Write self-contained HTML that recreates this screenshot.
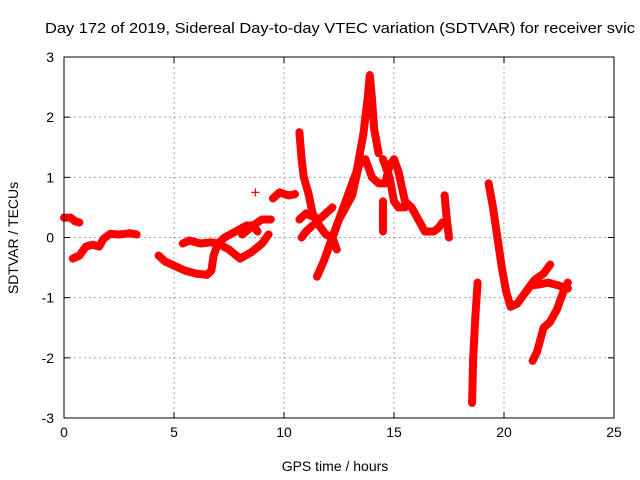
<!DOCTYPE html>
<html><head><meta charset="utf-8"><style>
body{margin:0;background:#fff}
svg{display:block;font-family:"Liberation Sans",sans-serif}
</style></head><body>
<svg id="c" width="640" height="480">
<text x="45" y="33" font-size="15" textLength="590" lengthAdjust="spacingAndGlyphs">Day 172 of 2019, Sidereal Day-to-day VTEC variation (SDTVAR) for receiver svic</text>
<text x="335" y="471" font-size="14" text-anchor="middle">GPS time / hours</text>
<text transform="translate(18,238) rotate(-90)" font-size="14" text-anchor="middle">SDTVAR / TECUs</text>
<g id="grid"></g>
<g id="marks"></g>
<rect x="64" y="57" width="550" height="361" fill="none" stroke="#000" stroke-width="1"/>
</svg>
<script>
const xTicks=[0,5,10,15,20,25];
const yTicks=[-3,-2,-1,0,1,2,3];
const traces=[
[[0,0.33],[0.3,0.33],[0.5,0.27],[0.7,0.25]],
[[0.4,-0.35],[0.7,-0.3],[1.0,-0.15],[1.3,-0.12],[1.6,-0.15],[1.8,-0.02],[2.1,0.06],[2.5,0.05],[3.0,0.07],[3.3,0.05]],
[[4.3,-0.3],[4.6,-0.4],[4.9,-0.45],[5.2,-0.5],[5.5,-0.55],[6.0,-0.6],[6.5,-0.62],[6.7,-0.55],[6.8,-0.3],[7.0,-0.1],[7.3,0],[7.8,0.1],[8.3,0.2],[8.6,0.2],[8.8,0.1]],
[[5.4,-0.1],[5.7,-0.05],[6.2,-0.1],[6.7,-0.08],[7.0,-0.1],[7.5,-0.2],[8.0,-0.35],[8.5,-0.25],[9.0,-0.1],[9.3,0.05]],
[[8.1,0.05],[8.6,0.2],[9.0,0.3],[9.4,0.3]],
[[9.5,0.65],[9.8,0.75],[10.2,0.7],[10.5,0.72]],
[[8.7,0.75]],
[[10.7,1.75],[10.8,1.3],[10.9,1.0],[11.1,0.75],[11.3,0.4],[11.6,0.2],[11.9,0.05],[12.2,0.0],[12.4,-0.2]],
[[11.5,-0.65],[11.8,-0.4],[12.1,-0.1],[12.4,0.2],[12.7,0.5],[13.0,0.8],[13.3,1.1],[13.6,1.7],[13.8,2.3],[13.9,2.7],[14.0,2.3],[14.1,1.8],[14.3,1.4]],
[[11.9,-0.3],[12.2,0],[12.5,0.3],[12.8,0.5],[13.1,0.7],[13.4,1.2],[13.7,1.3],[14.0,1.0],[14.3,0.9],[14.6,0.9],[14.8,1.2],[15.0,1.3],[15.2,1.1],[15.5,0.6],[15.8,0.5],[16.1,0.3],[16.4,0.1],[16.8,0.1],[17.0,0.15],[17.2,0.25]],
[[10.7,0.3],[11.0,0.4],[11.3,0.35],[11.6,0.3],[11.9,0.4],[12.2,0.5]],
[[10.8,0.0],[11.0,0.1],[11.3,0.2]],
[[14.5,1.3],[14.8,1.0],[15.0,0.6],[15.2,0.5],[15.5,0.5]],
[[14.5,0.6],[14.5,0.1]],
[[17.3,0.7],[17.4,0.3],[17.5,0.0]],
[[18.55,-2.75],[18.6,-2.0],[18.7,-1.3],[18.8,-0.75]],
[[19.3,0.9],[19.5,0.5],[19.7,0],[19.9,-0.5],[20.1,-0.9],[20.3,-1.15],[20.6,-1.1],[20.9,-0.95],[21.2,-0.8],[21.6,-0.78],[22,-0.75],[22.5,-0.8],[22.9,-0.85]],
[[21.0,-0.9],[21.4,-0.7],[21.8,-0.6],[22.1,-0.45]],
[[21.3,-2.05],[21.5,-1.9],[21.8,-1.5],[22.1,-1.4],[22.4,-1.2],[22.7,-0.9],[22.9,-0.75]]
];
const X0=64,X1=614,Y0=418,Y1=57;
const sx=t=>X0+(t-0)/(25-0)*(X1-X0);
const sy=v=>Y0-(v+3)/6*(Y0-Y1);
const NS="http://www.w3.org/2000/svg";
const grid=document.getElementById('grid'),marks=document.getElementById('marks');
function mk(tag,attrs,parent){const e=document.createElementNS(NS,tag);for(const k in attrs)e.setAttribute(k,attrs[k]);parent.appendChild(e);return e;}
xTicks.forEach(t=>{
 const x=sx(t);
 if(t>0&&t<25){const g=mk('line',{x1:x,x2:x,y1:Y1,y2:Y0,stroke:'#a0a0a0','stroke-dasharray':'2,3'},grid);
 
 }
 mk('line',{x1:x,x2:x,y1:Y0,y2:Y0-6,stroke:'#000'},grid);
 mk('line',{x1:x,x2:x,y1:Y1,y2:Y1+6,stroke:'#000'},grid);
 const l=mk('text',{x:x,y:Y0+19,'font-size':14,'text-anchor':'middle'},grid);l.textContent=t;
 
 
});
yTicks.forEach(v=>{
 const y=sy(v);
 if(v>-3&&v<3){const g=mk('line',{x1:X0,x2:X1,y1:y,y2:y,stroke:'#a0a0a0','stroke-dasharray':'2,3'},grid);
 
 }
 mk('line',{x1:X0,x2:X0+6,y1:y,y2:y,stroke:'#000'},grid);
 mk('line',{x1:X1,x2:X1-6,y1:y,y2:y,stroke:'#000'},grid);
 const l=mk('text',{x:X0-10,y:y+5,'font-size':14,'text-anchor':'end'},grid);l.textContent=v;
 
 
});
traces.forEach(tr=>{
 if(tr.length>1){const p=mk('polyline',{points:tr.map(d=>sx(d[0])+','+sy(d[1])).join(' '),fill:'none',stroke:'#f00','stroke-width':8,'stroke-linejoin':'round','stroke-linecap':'round'},marks);
 
 }
 tr.forEach(d=>{const x=sx(d[0]),y=sy(d[1]);
  const m=mk('path',{d:`M${x-4},${y}h8M${x},${y-4}v8`,stroke:'#f00','stroke-width':1.2},marks);
  
  
 });
});
</script>
</body></html>
